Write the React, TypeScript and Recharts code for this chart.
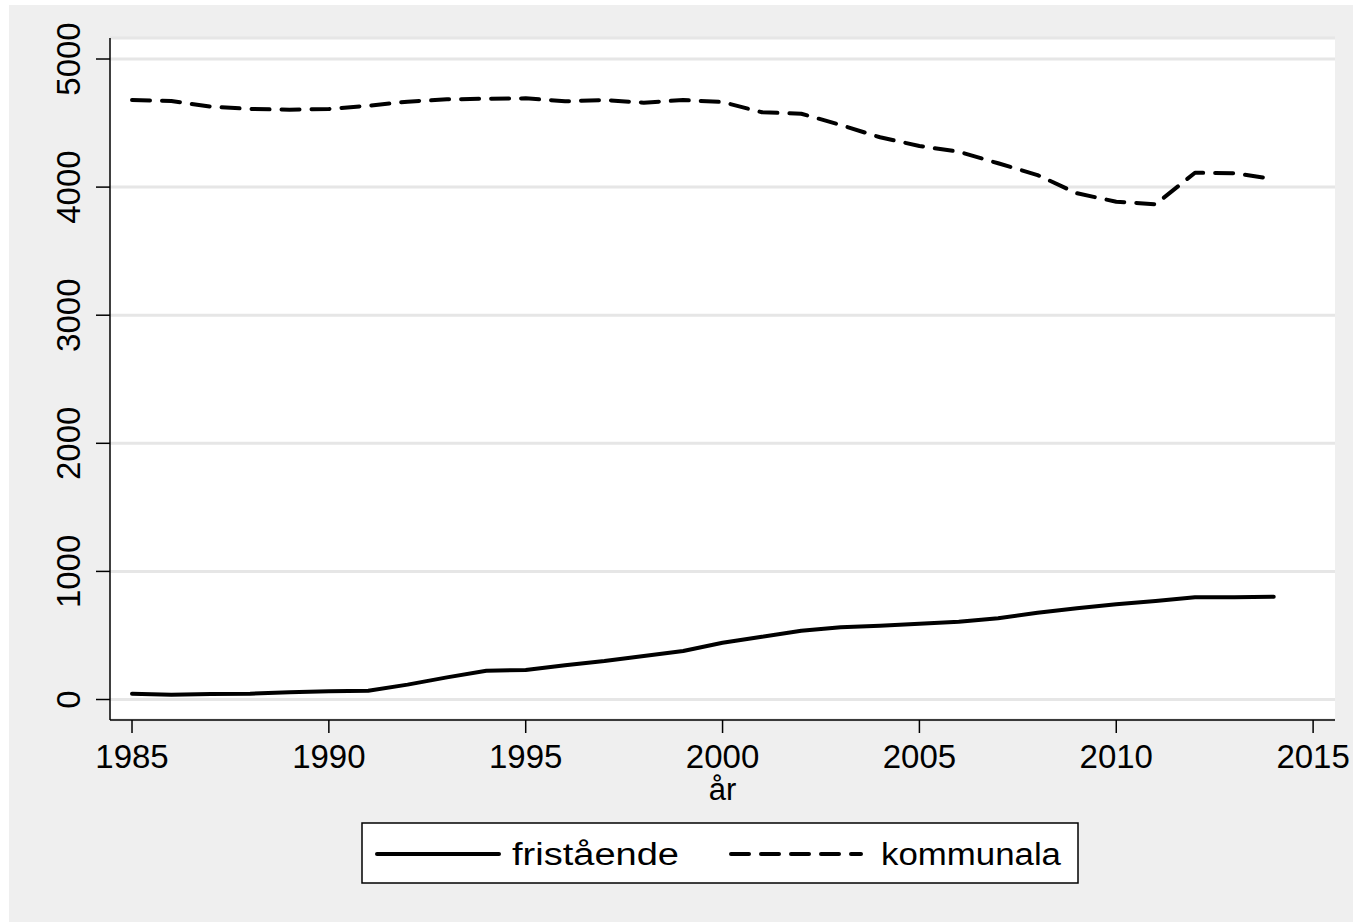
import React from "react";
import { LineChart, Line, XAxis, YAxis, CartesianGrid, Legend, Label } from "recharts";

// years on the x axis
const years = [
  1985, 1986, 1987, 1988, 1989, 1990, 1991, 1992, 1993, 1994, 1995, 1996, 1997, 1998, 1999,
  2000, 2001, 2002, 2003, 2004, 2005, 2006, 2007, 2008, 2009, 2010, 2011, 2012, 2013, 2014,
];

// independent schools
const fristaende = [
  45, 37, 43, 45, 56, 64, 69, 116, 173, 225, 230, 268, 300, 340, 379,
  443, 490, 537, 564, 576, 592, 607, 634, 678, 712, 743, 769, 798, 798, 802,
];

// municipal schools
const kommunala = [
  4680, 4672, 4628, 4610, 4604, 4610, 4635, 4667, 4685, 4690, 4693, 4670, 4680, 4659, 4680,
  4664, 4584, 4573, 4485, 4389, 4321, 4276, 4186, 4094, 3952, 3886, 3866, 4112, 4108, 4063,
];

const xTicks = [1985, 1990, 1995, 2000, 2005, 2010, 2015];
const yTicks = [0, 1000, 2000, 3000, 4000, 5000];

const data = years.map((year, i) => ({
  year,
  fristaende: fristaende[i],
  kommunala: kommunala[i],
}));

const FONT = "'Liberation Sans', Arial, Helvetica, sans-serif";

const XTick = (props: any) => {
  const { x, y, payload } = props;
  return (
    <text x={x} y={y + 35} textAnchor="middle" fontSize={33} fontFamily={FONT} fill="#000">
      {payload.value}
    </text>
  );
};

const YTick = (props: any) => {
  const { x, y, payload } = props;
  const tx = x - 16;
  return (
    <text
      x={tx}
      y={y}
      transform={`rotate(-90, ${tx}, ${y})`}
      textAnchor="middle"
      fontSize={33}
      fontFamily={FONT}
      fill="#000"
    >
      {payload.value}
    </text>
  );
};

// legend box drawn like the Stata legend
const LegendBox = () => (
  <svg width={720} height={63} style={{ display: "block" }}>
    <rect x={1} y={1} width={716} height={60} fill="#fff" stroke="#000" strokeWidth={1.5} />
    <line x1={16} y1={32} x2={138} y2={32} stroke="#000" strokeWidth={4} strokeLinecap="round" />
    <text x={151} y={43} fontSize={31} fontFamily={FONT} textLength={167} lengthAdjust="spacingAndGlyphs">
      fristående
    </text>
    <line
      x1={370}
      y1={32}
      x2={500}
      y2={32}
      stroke="#000"
      strokeWidth={4}
      strokeLinecap="round"
      strokeDasharray="18 12"
    />
    <text x={520} y={43} fontSize={31} fontFamily={FONT} textLength={180} lengthAdjust="spacingAndGlyphs">
      kommunala
    </text>
  </svg>
);

export default function App() {
  return (
    <div style={{ position: "absolute", left: 0, top: 0, width: 1353, height: 922, background: "#fff" }}>
      <div style={{ position: "absolute", left: 9, top: 5, right: 0, bottom: 0, background: "#efefef" }} />
      <div style={{ position: "absolute", left: 0, top: 0 }}>
        <LineChart
          width={1353}
          height={922}
          data={data}
          margin={{ top: 38, right: 18, left: 0, bottom: 0 }}
        >
          <CartesianGrid vertical={false} fill="#fff" stroke="#e6e6e6" strokeWidth={3} />
          <XAxis
            dataKey="year"
            type="number"
            domain={[1984.441, 2015.556]}
            ticks={xTicks}
            allowDataOverflow
            height={202}
            tickSize={13}
            tickMargin={0}
            tick={<XTick />}
            axisLine={{ stroke: "#000", strokeWidth: 1.5 }}
            tickLine={{ stroke: "#000", strokeWidth: 1.5 }}
          >
            <Label
              content={(p: any) => {
                const vb = p.viewBox || {};
                return (
                  <text
                    x={vb.x + vb.width / 2}
                    y={vb.y + 80}
                    textAnchor="middle"
                    fontSize={31}
                    fontFamily={FONT}
                    fill="#000"
                  >
                    år
                  </text>
                );
              }}
            />
          </XAxis>
          <YAxis
            type="number"
            domain={[-160, 5164]}
            ticks={yTicks}
            allowDataOverflow
            width={110}
            tickSize={14}
            tickMargin={0}
            tick={<YTick />}
            axisLine={{ stroke: "#000", strokeWidth: 1.5 }}
            tickLine={{ stroke: "#000", strokeWidth: 1.5 }}
          />
          <Line
            type="linear"
            dataKey="fristaende"
            name="fristående"
            stroke="#000"
            strokeWidth={4}
            strokeLinejoin="round"
            strokeLinecap="round"
            dot={false}
            isAnimationActive={false}
          />
          <Line
            type="linear"
            dataKey="kommunala"
            name="kommunala"
            stroke="#000"
            strokeWidth={4}
            strokeDasharray="18 12"
            strokeLinejoin="round"
            strokeLinecap="round"
            dot={false}
            isAnimationActive={false}
          />
          <Legend
            layout="horizontal"
            verticalAlign="middle"
            align="center"
            content={() => <LegendBox />}
            wrapperStyle={{ left: 361, top: 822, width: 720, height: 63 }}
          />
        </LineChart>
      </div>
    </div>
  );
}
